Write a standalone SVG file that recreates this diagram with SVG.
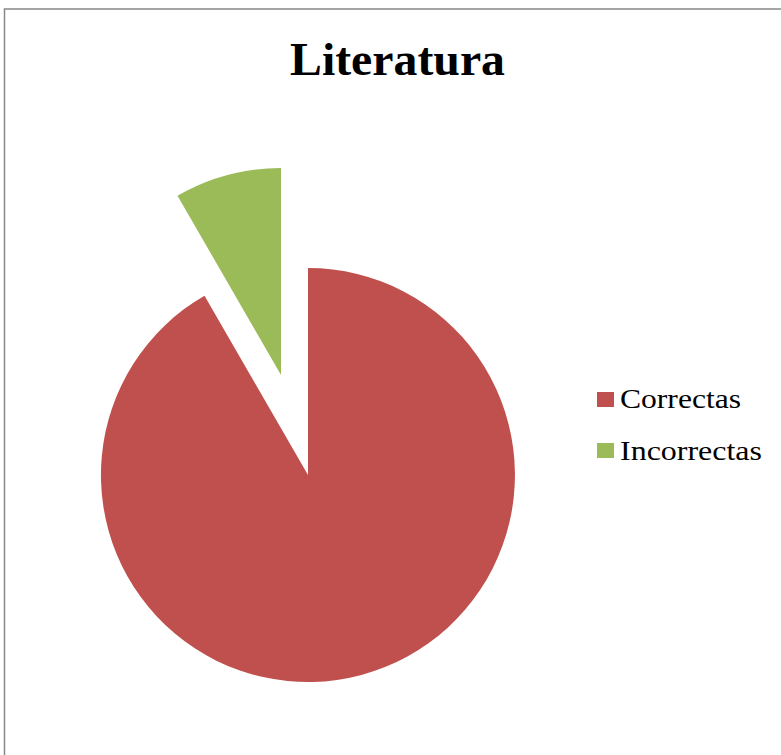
<svg xmlns="http://www.w3.org/2000/svg" width="781" height="755" viewBox="0 0 781 755">
<style>
.title{font-family:"Liberation Serif","Times New Roman",serif;font-weight:bold;font-size:47px;fill:#000}
.leg{font-family:"Liberation Serif","Times New Roman",serif;font-size:28px;fill:#000}
.red{fill:#C0504D}
.green{fill:#9BBB59}
</style>
<rect x="0" y="0" width="781" height="755" fill="#fff"/>
<rect x="4.5" y="9" width="800" height="800" fill="none" stroke="#888" stroke-width="1.5"/>
<text class="title" x="397.5" y="75" text-anchor="middle" textLength="215" lengthAdjust="spacingAndGlyphs">Literatura</text>
<g id="slice-correctas">
<path class="red" d="M308,475 L308,268 A207,207 0 1 1 204.5,295.7 Z"/>
</g>
<g id="slice-incorrectas">
<path class="green" d="M281,375 L177.5,195.7 A207,207 0 0 1 281,168 Z"/>
</g>
<g id="legend">
<rect class="red" x="597" y="392" width="17" height="15"/>
<text class="leg" x="620" y="408" textLength="121" lengthAdjust="spacingAndGlyphs">Correctas</text>
<rect class="green" x="597" y="443" width="17" height="15"/>
<text class="leg" x="620" y="460" textLength="142" lengthAdjust="spacingAndGlyphs">Incorrectas</text>
</g>
</svg>
